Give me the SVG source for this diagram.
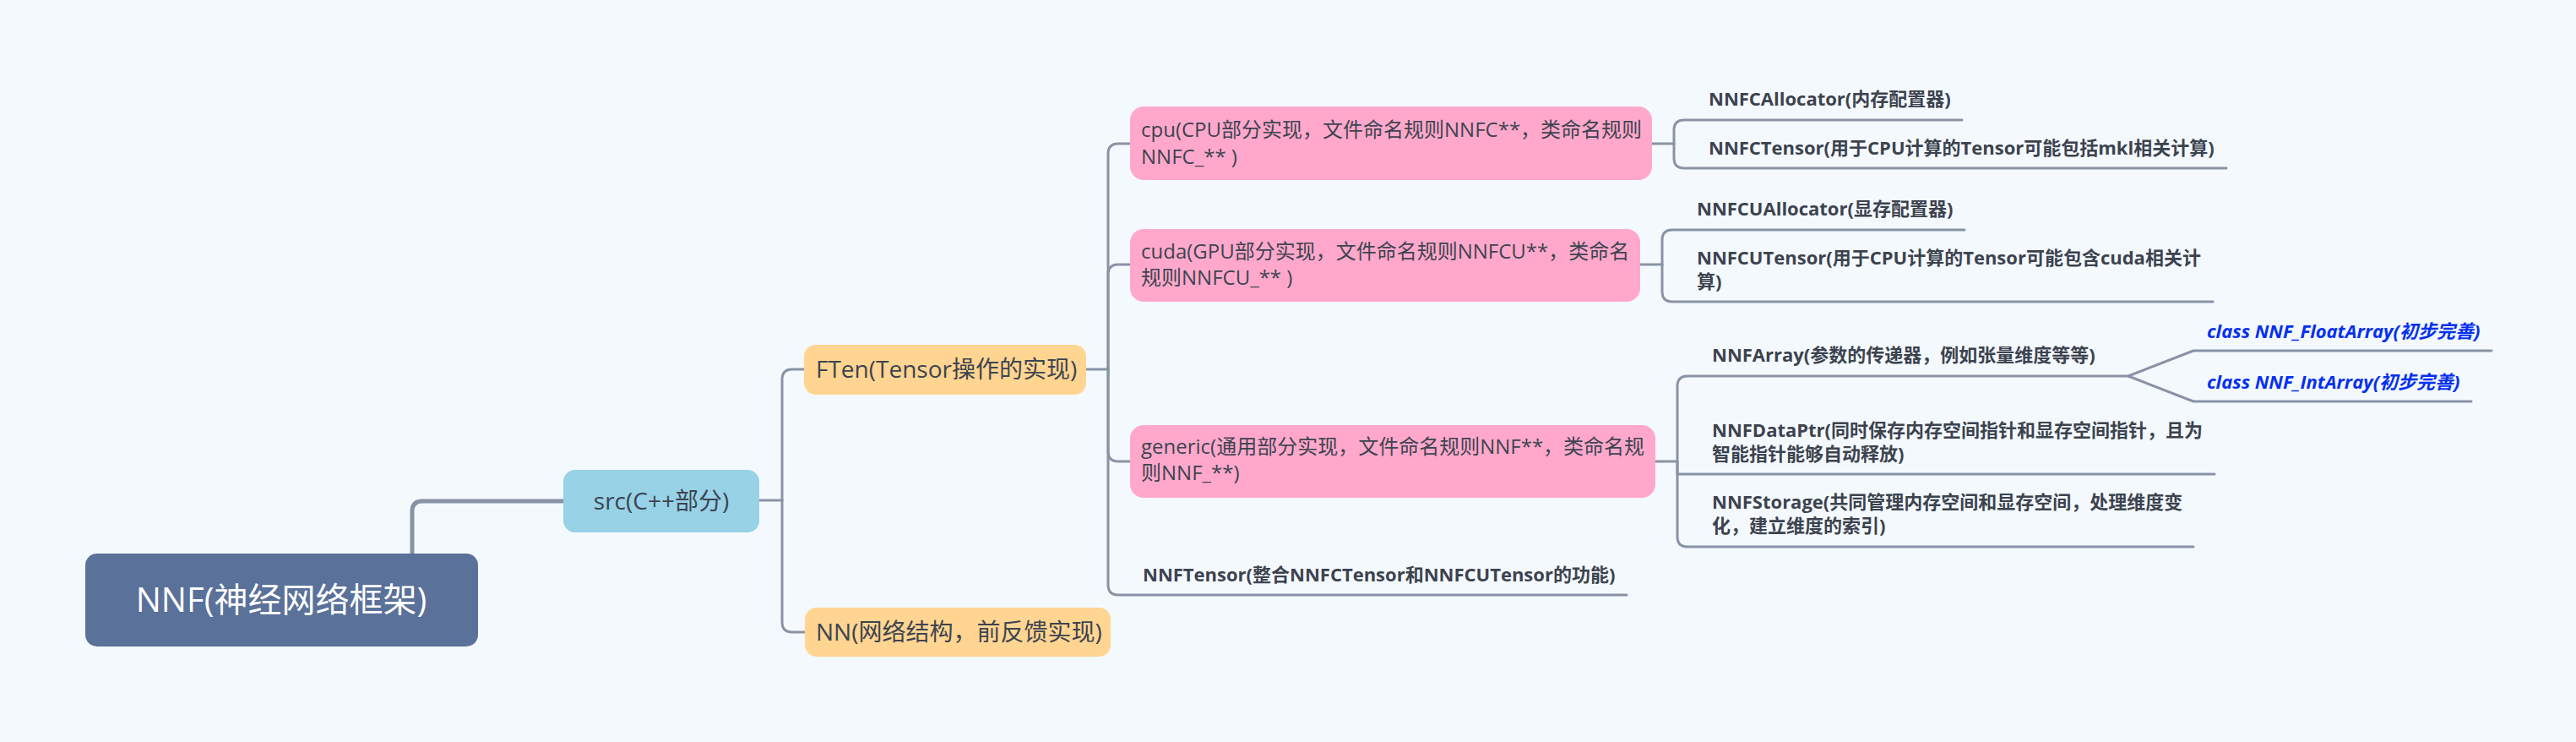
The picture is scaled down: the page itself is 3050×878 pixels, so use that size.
<svg xmlns="http://www.w3.org/2000/svg" width="3050" height="878" viewBox="0 0 3050 878">
<style>
.bg{fill:#F4F9FD}
.ln{fill:none;stroke:#8993A5;stroke-width:3;stroke-linecap:round;stroke-linejoin:round}
.box{font-family:"Open Sans","Noto Sans CJK SC",sans-serif;fill:#3D4450}
.t28{font-size:28px}
.t24{font-size:24px}
.leaf{font-family:"Open Sans","Noto Sans CJK SC",sans-serif;font-size:22px;font-weight:bold;fill:#3C434F}
.cls{font-family:"Open Sans","Noto Sans CJK SC",sans-serif;font-size:22px;font-weight:bold;font-style:italic;fill:#0530F0}
.pink{fill:#FFA8CB}
.orange{fill:#FFD591}
</style>
<rect class="bg" x="0" y="0" width="3050" height="878"/>
<g id="connectors">
<path d="M488,655 V605 Q488,593 500,593 H667" fill="none" stroke="#8993A5" stroke-width="5"/>
<path class="ln" d="M899,592 H926"/>
<path class="ln" d="M926,592 V449 Q926,437 938,437 H952"/>
<path class="ln" d="M926,592 V736 Q926,748 938,748 H953"/>
<path class="ln" d="M1286,437 H1312"/>
<path class="ln" d="M1312,437 V182 Q1312,170 1324,170 H1338"/>
<path class="ln" d="M1312,437 V325 Q1312,313 1324,313 H1338"/>
<path class="ln" d="M1312,437 V534 Q1312,546 1324,546 H1338"/>
<path class="ln" d="M1312,437 V692 Q1312,704 1324,704 H1926"/>
<path class="ln" d="M1956,170 H1982"/>
<path class="ln" d="M1982,170 V154 Q1982,142 1994,142 H2323"/>
<path class="ln" d="M1982,170 V187 Q1982,199 1994,199 H2636"/>
<path class="ln" d="M1942,313 H1968"/>
<path class="ln" d="M1968,313 V284 Q1968,272 1980,272 H2326"/>
<path class="ln" d="M1968,313 V345 Q1968,357 1980,357 H2620"/>
<path class="ln" d="M1960,546 H1986"/>
<path class="ln" d="M1986,546 V457 Q1986,445 1998,445 H2520"/>
<path class="ln" d="M1986,546 V561 H2622"/>
<path class="ln" d="M1986,546 V635 Q1986,647 1998,647 H2597"/>
<path class="ln" d="M2520,445 L2597,415 H2950"/>
<path class="ln" d="M2520,445 L2597,475 H2926"/>
</g>
<g id="node-nnf">
<rect x="101" y="655" width="465" height="110" rx="14" fill="#5A7199"/>
<text x="333" y="724" text-anchor="middle" font-family="Open Sans, Noto Sans CJK SC, sans-serif" font-size="40" fill="#FFFFFF">NNF(神经网络框架)</text>
</g>
<g id="node-src">
<rect x="667" y="556" width="232" height="74" rx="14" fill="#97D2E7"/>
<text class="box t28" x="783" y="603" text-anchor="middle">src(C++部分)</text>
</g>
<g id="node-ften">
<rect class="orange" x="952" y="408" width="334" height="59" rx="14"/>
<text class="box t28" x="966" y="447">FTen(Tensor操作的实现)</text>
</g>
<g id="node-nn">
<rect class="orange" x="953" y="719" width="362" height="58" rx="14"/>
<text class="box t28" x="966" y="758">NN(网络结构，前反馈实现)</text>
</g>
<g id="node-cpu">
<rect class="pink" x="1338" y="126" width="618" height="87" rx="16"/>
<text class="box t24" x="1351" y="162">cpu(CPU部分实现，文件命名规则NNFC**，类命名规则</text>
<text class="box t24" x="1351" y="194">NNFC_** )</text>
</g>
<g id="node-cuda">
<rect class="pink" x="1338" y="271" width="604" height="86" rx="16"/>
<text class="box t24" x="1351" y="306">cuda(GPU部分实现，文件命名规则NNFCU**，类命名</text>
<text class="box t24" x="1351" y="337">规则NNFCU_** )</text>
</g>
<g id="node-generic">
<rect class="pink" x="1338" y="503" width="622" height="86" rx="16"/>
<text class="box t24" x="1351" y="537">generic(通用部分实现，文件命名规则NNF**，类命名规</text>
<text class="box t24" x="1351" y="568">则NNF_**)</text>
</g>
<g id="node-nnfcallocator">
<text class="leaf" x="2023" y="125">NNFCAllocator(内存配置器)</text>
</g>
<g id="node-nnfctensor">
<text class="leaf" x="2023" y="183">NNFCTensor(用于CPU计算的Tensor可能包括mkl相关计算)</text>
</g>
<g id="node-nnfcuallocator">
<text class="leaf" x="2009" y="255">NNFCUAllocator(显存配置器)</text>
</g>
<g id="node-nnfcutensor">
<text class="leaf" x="2009" y="313">NNFCUTensor(用于CPU计算的Tensor可能包含cuda相关计</text>
<text class="leaf" x="2009" y="341">算)</text>
</g>
<g id="node-nnftensor">
<text class="leaf" x="1353" y="688">NNFTensor(整合NNFCTensor和NNFCUTensor的功能)</text>
</g>
<g id="node-nnfarray">
<text class="leaf" x="2027" y="428">NNFArray(参数的传递器，例如张量维度等等)</text>
</g>
<g id="node-floatarray">
<text class="cls" x="2613" y="400">class NNF_FloatArray(初步完善)</text>
</g>
<g id="node-intarray">
<text class="cls" x="2613" y="460">class NNF_IntArray(初步完善)</text>
</g>
<g id="node-nnfdataptr">
<text class="leaf" x="2027" y="517">NNFDataPtr(同时保存内存空间指针和显存空间指针，且为</text>
<text class="leaf" x="2027" y="545">智能指针能够自动释放)</text>
</g>
<g id="node-nnfstorage">
<text class="leaf" x="2027" y="602">NNFStorage(共同管理内存空间和显存空间，处理维度变</text>
<text class="leaf" x="2027" y="630">化，建立维度的索引)</text>
</g>
</svg>
